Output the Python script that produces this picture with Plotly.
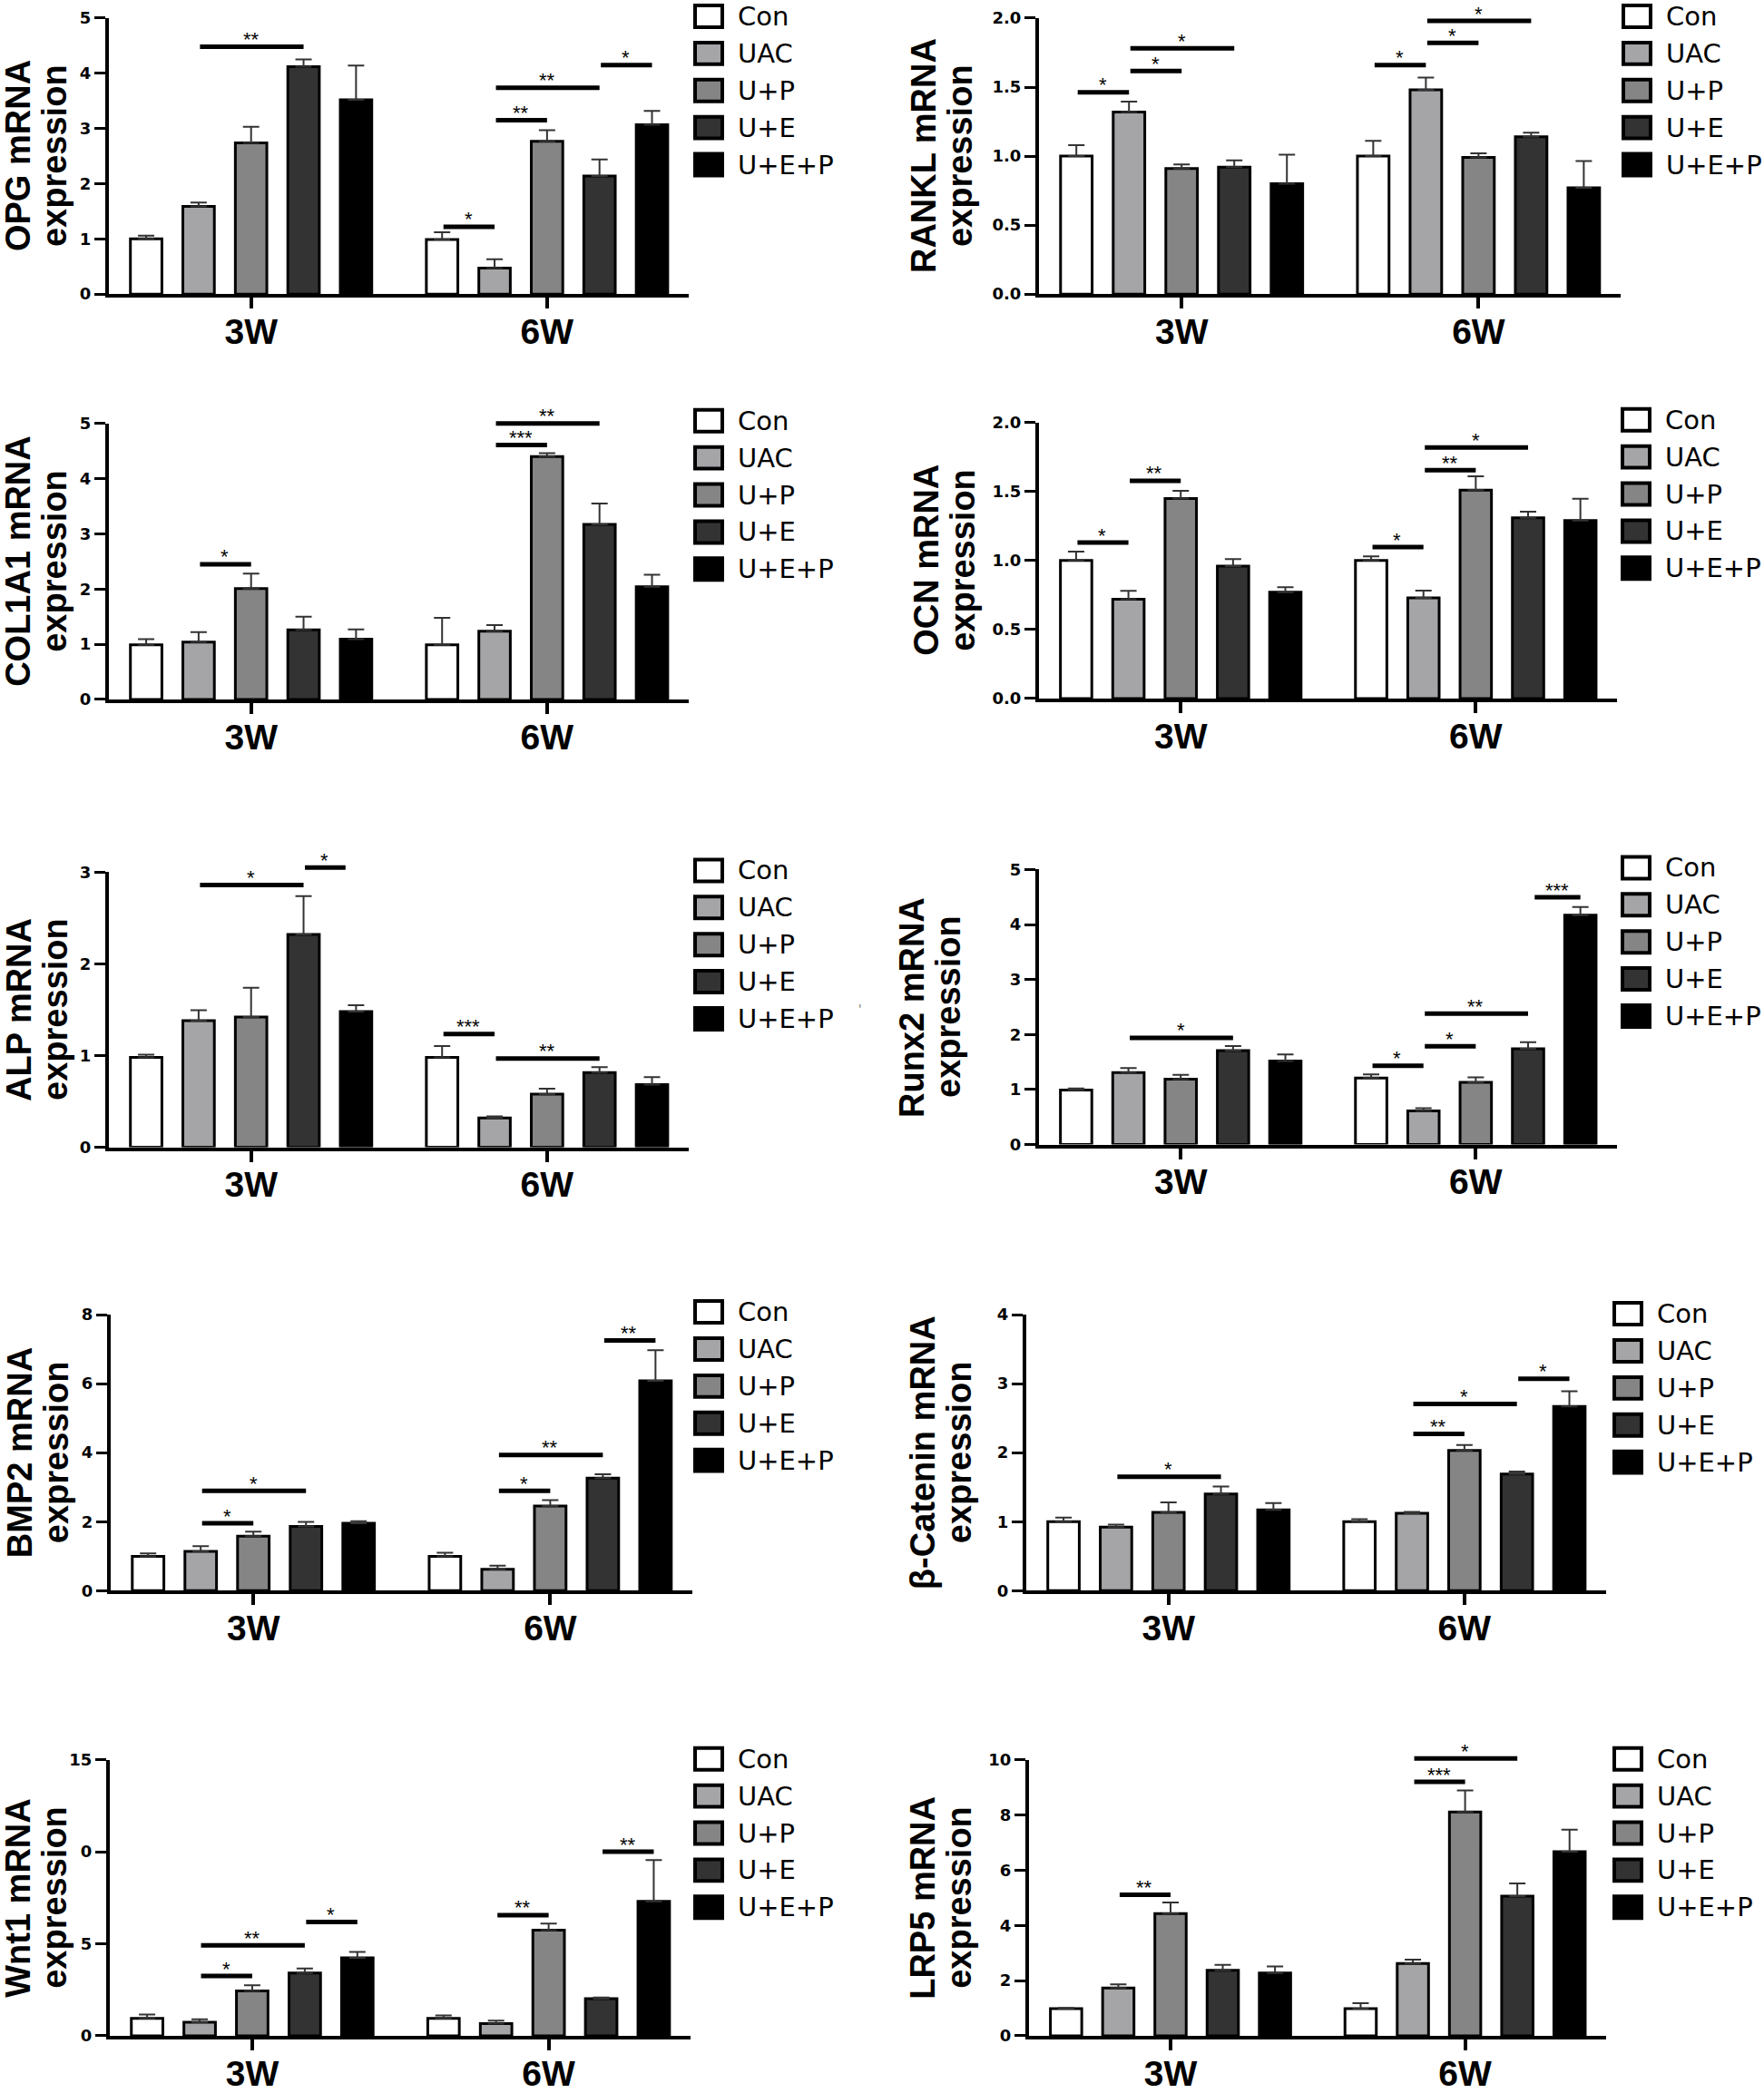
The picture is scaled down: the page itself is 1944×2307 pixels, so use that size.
import plotly.graph_objects as go

W, H = 1944, 2307

groups = ["Con", "UAC", "U+P", "U+E", "U+E+P"]
group_colors = ["#ffffff", "#a5a5a8", "#858585", "#333333", "#000000"]
time_points = ["3W", "6W"]
genes = ["OPG", "RANKL", "COL1A1", "OCN", "ALP", "Runx2", "BMP2", "β-Catenin", "Wnt1", "LRP5"]

# ---- values (mean, upward SEM) per gene, per time point ----
opg_3w = [1.00, 1.59, 2.74, 4.12, 3.52]
opg_3w_err = [0.06, 0.07, 0.29, 0.13, 0.62]
opg_6w = [0.99, 0.47, 2.77, 2.14, 3.07]
opg_6w_err = [0.13, 0.16, 0.20, 0.30, 0.25]
opg_sig = [(0, 1, 3, 4.48, "**"), (1, 0, 1, 1.22, "*"), (1, 1, 2, 3.15, "**"),
           (1, 1, 3, 3.74, "**"), (1, 3, 4, 4.15, "*")]

rankl_3w = [1.00, 1.32, 0.91, 0.92, 0.80]
rankl_3w_err = [0.08, 0.075, 0.03, 0.05, 0.21]
rankl_6w = [1.00, 1.48, 0.99, 1.14, 0.77]
rankl_6w_err = [0.11, 0.09, 0.03, 0.03, 0.195]
rankl_sig = [(0, 0, 1, 1.463, "*"), (0, 1, 2, 1.617, "*"), (0, 1, 3, 1.781, "*"),
             (1, 0, 1, 1.66, "*"), (1, 1, 2, 1.82, "*"), (1, 1, 3, 1.98, "*")]

col1a1_3w = [0.99, 1.04, 2.01, 1.26, 1.09]
col1a1_3w_err = [0.10, 0.18, 0.27, 0.24, 0.18]
col1a1_6w = [0.99, 1.235, 4.40, 3.17, 2.04]
col1a1_6w_err = [0.49, 0.11, 0.06, 0.38, 0.22]
col1a1_sig = [(0, 1, 2, 2.45, "*"), (1, 1, 2, 4.61, "***"), (1, 1, 3, 5.0, "**")]

ocn_3w = [1.00, 0.72, 1.45, 0.96, 0.77]
ocn_3w_err = [0.065, 0.06, 0.055, 0.05, 0.037]
ocn_6w = [1.00, 0.73, 1.51, 1.31, 1.29]
ocn_6w_err = [0.03, 0.052, 0.10, 0.044, 0.157]
ocn_sig = [(0, 0, 1, 1.13, "*"), (0, 1, 2, 1.578, "**"), (1, 0, 1, 1.097, "*"),
           (1, 1, 2, 1.655, "**"), (1, 1, 3, 1.82, "*")]

alp_3w = [0.98, 1.38, 1.42, 2.32, 1.48]
alp_3w_err = [0.03, 0.115, 0.32, 0.42, 0.07]
alp_6w = [0.98, 0.32, 0.58, 0.815, 0.684]
alp_6w_err = [0.125, 0.016, 0.06, 0.06, 0.08]
alp_sig = [(0, 1, 3, 2.86, "*"), (0, 3, 3.8, 3.05, "*"), (1, 0, 1, 1.236, "***"),
           (1, 1, 3, 0.969, "**")]

runx2_3w = [0.99, 1.31, 1.19, 1.71, 1.52]
runx2_3w_err = [0.03, 0.08, 0.077, 0.08, 0.12]
runx2_6w = [1.21, 0.61, 1.13, 1.74, 4.17]
runx2_6w_err = [0.066, 0.05, 0.09, 0.12, 0.15]
runx2_sig = [(0, 1, 3, 1.94, "*"), (1, 0, 1, 1.434, "*"), (1, 1, 2, 1.786, "*"),
             (1, 1, 3, 2.38, "**"), (1, 3.1, 4, 4.495, "***")]

bmp2_3w = [0.99, 1.14, 1.58, 1.86, 1.95]
bmp2_3w_err = [0.09, 0.15, 0.13, 0.13, 0.06]
bmp2_6w = [0.99, 0.62, 2.45, 3.26, 6.08]
bmp2_6w_err = [0.11, 0.10, 0.17, 0.11, 0.89]
bmp2_sig = [(0, 1, 2, 1.95, "*"), (0, 1, 3, 2.89, "*"), (1, 1, 2, 2.89, "*"),
            (1, 1, 3, 3.93, "**"), (1, 3, 4, 7.25, "**")]

bcat_3w = [1.00, 0.92, 1.135, 1.40, 1.17]
bcat_3w_err = [0.06, 0.035, 0.145, 0.11, 0.10]
bcat_6w = [1.00, 1.12, 2.03, 1.69, 2.67]
bcat_6w_err = [0.035, 0.02, 0.08, 0.035, 0.22]
bcat_sig = [(0, 1, 3, 1.65, "*"), (1, 1, 2, 2.27, "**"), (1, 1, 3, 2.707, "*"),
            (1, 3, 4, 3.07, "*")]

wnt1_3w = [0.95, 0.74, 2.43, 3.41, 4.23]
wnt1_3w_err = [0.20, 0.16, 0.31, 0.25, 0.33]
wnt1_6w = [0.95, 0.66, 5.74, 2.02, 7.30]
wnt1_6w_err = [0.16, 0.16, 0.36, 0.06, 2.25]
wnt1_sig = [(0, 1, 2, 3.25, "*"), (0, 1, 3, 4.92, "**"), (0, 3, 4, 6.18, "*"),
            (1, 1, 2, 6.56, "**"), (1, 3, 4, 10.0, "**")]

lrp5_3w = [0.98, 1.73, 4.43, 2.37, 2.27]
lrp5_3w_err = [0.03, 0.13, 0.40, 0.20, 0.24]
lrp5_6w = [0.98, 2.62, 8.11, 5.06, 6.67]
lrp5_6w_err = [0.20, 0.14, 0.78, 0.46, 0.80]
lrp5_sig = [(0, 1, 2, 5.11, "**"), (1, 1, 2, 9.2, "***"), (1, 1, 3, 10.05, "*")]

# y-axis ticks
ticks_0_5 = [0, 1, 2, 3, 4, 5]
ticks_0_2 = [0, 0.5, 1.0, 1.5, 2.0]
labels_0_2 = ["0.0", "0.5", "1.0", "1.5", "2.0"]
ticks_0_3 = [0, 1, 2, 3]
ticks_0_8 = [0, 2, 4, 6, 8]
ticks_0_4 = [0, 1, 2, 3, 4]
ticks_wnt = [0, 5, 10, 15]
labels_wnt = ["0", "5", "0", "15"]
ticks_0_10 = [0, 2, 4, 6, 8, 10]

data = [
    (opg_3w, opg_3w_err, opg_6w, opg_6w_err, opg_sig, 5, ticks_0_5, None),
    (rankl_3w, rankl_3w_err, rankl_6w, rankl_6w_err, rankl_sig, 2, ticks_0_2, labels_0_2),
    (col1a1_3w, col1a1_3w_err, col1a1_6w, col1a1_6w_err, col1a1_sig, 5, ticks_0_5, None),
    (ocn_3w, ocn_3w_err, ocn_6w, ocn_6w_err, ocn_sig, 2, ticks_0_2, labels_0_2),
    (alp_3w, alp_3w_err, alp_6w, alp_6w_err, alp_sig, 3, ticks_0_3, None),
    (runx2_3w, runx2_3w_err, runx2_6w, runx2_6w_err, runx2_sig, 5, ticks_0_5, None),
    (bmp2_3w, bmp2_3w_err, bmp2_6w, bmp2_6w_err, bmp2_sig, 8, ticks_0_8, None),
    (bcat_3w, bcat_3w_err, bcat_6w, bcat_6w_err, bcat_sig, 4, ticks_0_4, None),
    (wnt1_3w, wnt1_3w_err, wnt1_6w, wnt1_6w_err, wnt1_sig, 15, ticks_wnt, labels_wnt),
    (lrp5_3w, lrp5_3w_err, lrp5_6w, lrp5_6w_err, lrp5_sig, 10, ticks_0_10, None),
]

# ---- layout (pixel boxes of each plot area): left, right, top, bottom ----
boxes = [
    (120, 759, 18, 323), (1145, 1786, 18, 323),
    (120, 759, 466, 771), (1145, 1782, 465, 770),
    (120, 759, 962, 1266), (1145, 1782, 959, 1263),
    (122, 763, 1451, 1756), (1131, 1770, 1451, 1756),
    (121, 761, 1943, 2248), (1134, 1770, 1943, 2248),
]
title_x = [20, 1018, 20, 1021, 21, 1005, 22, 1017, 20, 1017]
legend_pos = [(765, 16), (1788, 16), (765, 463), (1787, 462), (765, 960),
              (1787, 957), (765, 1448), (1778, 1450), (765, 1942), (1778, 1942)]

group_centers = [0.0, 5.64]
bar_offsets = [-2, -1, 0, 1, 2]
x_range = [-2.71, 8.34]

FONT = "Arial, Liberation Sans, sans-serif"
WIDE = "DejaVu Sans, Arial, sans-serif"

fig = go.Figure()
layout = dict(
    width=W, height=H, margin=dict(l=0, r=0, t=0, b=0),
    paper_bgcolor="white", plot_bgcolor="white", showlegend=False,
    barmode="overlay", font=dict(family=FONT, color="black"),
)
annotations = []
shapes = []

# the captured page carries a few pixels of extra height; compensate vertically
V_OFF, V_SCALE = 9.0, 0.9923


def px(x):
    return x / W


def py(y):
    return 1 - ((y - V_OFF) / V_SCALE) / H


for p, (v3, e3, v6, e6, sig, ymax, tv, tt) in enumerate(data):
    n = "" if p == 0 else str(p + 1)
    xa, ya = "x" + n, "y" + n
    l, r, t, b = boxes[p]
    for k in range(5):
        fig.add_trace(go.Bar(
            x=[group_centers[0] + bar_offsets[k], group_centers[1] + bar_offsets[k]],
            y=[v3[k], v6[k]], width=0.6, xaxis=xa, yaxis=ya,
            marker=dict(color=group_colors[k], line=dict(color="black", width=3)),
            error_y=dict(type="data", symmetric=False, array=[e3[k], e6[k]],
                         arrayminus=[0, 0], color="#333333", thickness=2, width=9),
            hoverinfo="skip", cliponaxis=False,
        ))
    for (g, i, j, yv, lab) in sig:
        x0 = group_centers[g] + i - 2
        x1 = group_centers[g] + j - 2
        # bars sitting just above the axis top are anchored at the top and shifted up
        ya_val = min(yv, ymax)
        shift = (yv - ya_val) / ymax * (b - t)
        annotations.append(dict(
            x=x1, y=ya_val, ax=x0, ay=ya_val, xref=xa, yref=ya, axref=xa, ayref=ya,
            text="", showarrow=True, arrowhead=0, arrowwidth=5, arrowcolor="black",
            standoff=0, startstandoff=0, yshift=shift,
        ))
        annotations.append(dict(
            x=(x0 + x1) / 2, y=ya_val, xref=xa, yref=ya, text=lab, showarrow=False,
            yanchor="middle", yshift=8 + shift,
            font=dict(size=22, family=FONT, color="black"),
        ))
    layout["xaxis" + n] = dict(
        domain=[px(l), px(r)], anchor=ya, range=x_range,
        tickvals=group_centers, ticktext=time_points,
        showline=True, linecolor="black", linewidth=4, mirror=False,
        ticks="outside", ticklen=12, tickwidth=4, tickcolor="black",
        ticklabelstandoff=-8,
        tickfont=dict(size=39, family=FONT, weight="bold"),
        showgrid=False, zeroline=False, fixedrange=True,
    )
    layout["yaxis" + n] = dict(
        domain=[py(b), py(t)], anchor=xa, range=[0, ymax],
        tickvals=tv, ticktext=tt if tt else [str(v) for v in tv],
        showline=True, linecolor="black", linewidth=4,
        ticks="outside", ticklen=12, tickwidth=3, tickcolor="black",
        tickfont=dict(size=18, family=WIDE, weight="bold"),
        showgrid=False, zeroline=False, fixedrange=True,
    )
    # rotated two-line y title
    yc = (t + b) / 2
    for li, txt in enumerate([genes[p] + " mRNA", "expression"]):
        annotations.append(dict(
            x=px(title_x[p] + 40 * li), y=py(yc), xref="paper", yref="paper",
            text=txt, showarrow=False, textangle=-90, xanchor="center", yanchor="middle",
            font=dict(size=38, family=FONT, weight="bold", color="black"),
        ))
    # legend
    lx, ly = legend_pos[p]
    for k in range(5):
        cy = ly + 41 * k
        shapes.append(dict(
            type="rect", xref="paper", yref="paper",
            x0=px(lx + 1), x1=px(lx + 31), y0=py(cy + 12), y1=py(cy - 12),
            fillcolor=group_colors[k], line=dict(color="black", width=4),
        ))
        annotations.append(dict(
            x=px(lx + 46), y=py(cy), xref="paper", yref="paper", text=groups[k],
            showarrow=False, xanchor="left", yanchor="middle",
            font=dict(size=29, family=WIDE, color="black"),
        ))

# stray mark next to the ALP legend
annotations.append(dict(x=px(947), y=py(1115), xref="paper", yref="paper", text="'",
                        showarrow=False, font=dict(size=18, color="#999999")))

layout["annotations"] = annotations
layout["shapes"] = shapes
fig.update_layout(**layout)
fig.write_html("out.html", config={"displayModeBar": False, "staticPlot": True},
               post_script="document.body.style.margin='0px';")
